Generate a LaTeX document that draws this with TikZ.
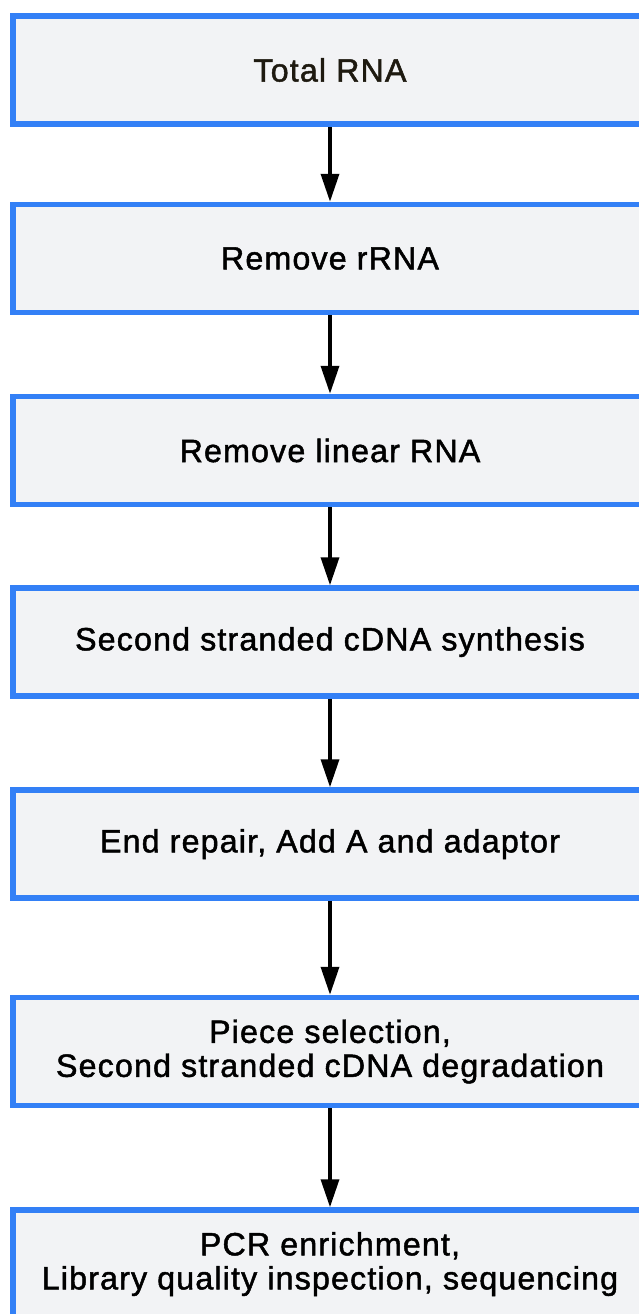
\documentclass[tikz,border=0pt]{standalone}
\usepackage{fontspec}
\setmainfont{Liberation Sans}[LetterSpace=3.6,FakeBold=1.5]
\usetikzlibrary{arrows.meta}
\definecolor{boxblue}{RGB}{51,128,246}
\definecolor{boxfill}{RGB}{242,243,245}
\definecolor{darktext}{RGB}{30,26,16}
\tikzset{
  stepbox/.style={draw=boxblue, fill=boxfill, line width=5.5pt, rectangle,
    minimum width=634.5pt, minimum height=108pt, inner sep=0pt, align=center,
    font=\fontsize{32.2pt}{34pt}\selectfont},
  flowarrow/.style={line width=3.5pt, -{Triangle[length=28pt,width=18pt]}}
}
\begin{document}
\begin{tikzpicture}[x=1pt,y=-1pt]
\useasboundingbox (0,0) rectangle (638,1314);
\node[stepbox, text=darktext] (b1) at (330,70) {Total RNA};
\node[stepbox] (b2) at (330,258.5) {Remove rRNA};
\node[stepbox] (b3) at (330,450.5) {Remove linear RNA};
\node[stepbox] (b4) at (330,642) {Second stranded cDNA synthesis};
\node[stepbox] (b5) at (330,844) {End repair, Add A and adaptor};
\node[stepbox] (b6) at (330,1051.5) {Piece selection,\\Second stranded cDNA degradation};
\node[stepbox] (b7) at (330,1264) {PCR enrichment,\\Library quality inspection, sequencing};
\foreach \a/\b in {b1/b2,b2/b3,b3/b4,b4/b5,b5/b6,b6/b7}
  \draw[flowarrow] (\a.south) -- (\b.north);
\end{tikzpicture}
\end{document}
